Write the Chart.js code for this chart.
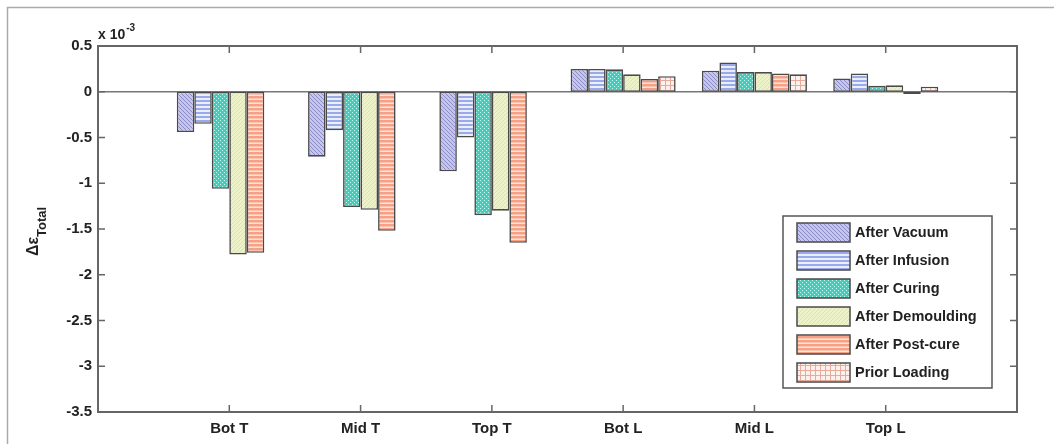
<!DOCTYPE html>
<html>
<head>
<meta charset="utf-8">
<script src="https://cdn.jsdelivr.net/npm/chart.js@4.4.0/dist/chart.umd.min.js"></script>
<style>
  body { margin: 0; background: #fff; }
  #wrap { width: 1054px; height: 444px; }
</style>
</head>
<body>
<div id="wrap"><canvas id="myChart" width="1054" height="444"></canvas></div>
<script>
// Datos (unidades de 10^-3)
const categories = ['Bot T', 'Mid T', 'Top T', 'Bot L', 'Mid L', 'Top L'];
const seriesNames = ['After Vacuum', 'After Infusion', 'After Curing', 'After Demoulding', 'After Post-cure', 'Prior Loading'];
const afterVacuum = [-0.44, -0.71, -0.87, 0.25, 0.23, 0.145];
const afterInfusion = [-0.35, -0.42, -0.50, 0.25, 0.32, 0.20];
const afterCuring = [-1.06, -1.26, -1.35, 0.245, 0.215, 0.065];
const afterDemoulding = [-1.78, -1.29, -1.30, 0.19, 0.215, 0.07];
const afterPostcure = [-1.76, -1.52, -1.65, 0.14, 0.20, -0.025];
const priorLoading = [0, 0, 0, 0.17, 0.19, 0.055];
const yTicks = [0.5, 0, -0.5, -1, -1.5, -2, -2.5, -3, -3.5];

const FONT = '"Liberation Sans", Arial, sans-serif';

// Patrones de relleno (estilo MATLAB hatch)
function makePattern(size, draw) {
    const c = document.createElement('canvas');
    c.width = size; c.height = size;
    const g = c.getContext('2d');
    draw(g, size);
    return document.getElementById('myChart').getContext('2d').createPattern(c, 'repeat');
}

const patterns = [
    makePattern(4, (g, s) => {
        g.fillStyle = '#c6c6ea'; g.fillRect(0, 0, s, s);
        g.strokeStyle = '#8a8ac6'; g.lineWidth = 1;
        g.beginPath(); g.moveTo(-1, -1); g.lineTo(s + 1, s + 1); g.stroke();
    }),
    makePattern(4, (g, s) => {
        g.fillStyle = '#eaeefc'; g.fillRect(0, 0, s, s);
        g.fillStyle = '#9aaae8'; g.fillRect(0, 0, s, 2);
    }),
    makePattern(4, (g, s) => {
        g.fillStyle = '#3fcfbd'; g.fillRect(0, 0, s, s);
        g.fillStyle = '#c8f2ec'; g.fillRect(0, 0, 1, 1); g.fillRect(2, 2, 1, 1);
    }),
    makePattern(4, (g, s) => {
        g.fillStyle = '#eef2c8'; g.fillRect(0, 0, s, s);
        g.strokeStyle = '#dbe5a4'; g.lineWidth = 1;
        g.beginPath(); g.moveTo(-1, s + 1); g.lineTo(s + 1, -1); g.stroke();
    }),
    makePattern(4, (g, s) => {
        g.fillStyle = '#fde3d8'; g.fillRect(0, 0, s, s);
        g.fillStyle = '#f6a085'; g.fillRect(0, 0, s, 2.5);
    }),
    makePattern(5, (g, s) => {
        g.fillStyle = '#fcf1ed'; g.fillRect(0, 0, s, s);
        g.fillStyle = '#e8aa9b'; g.fillRect(0, 0, s, 1); g.fillRect(0, 0, 1, s);
    })
];

const seriesData = [afterVacuum, afterInfusion, afterCuring, afterDemoulding, afterPostcure, priorLoading];

// Etiquetas con relleno vacío a los lados (eje de 0 a 7 como en MATLAB)
const labels = [''].concat(categories, ['']);

const datasets = seriesData.map((vals, i) => ({
    label: seriesNames[i],
    data: [null].concat(vals, [null]),
    backgroundColor: patterns[i],
    borderColor: '#4a4a4a',
    borderWidth: 1.6,
    borderSkipped: false,
    categoryPercentage: 0.8,
    barPercentage: 1.0
}));

// Plugin para caja, ticks hacia adentro, linea de cero, leyenda y textos
const matlabPlugin = {
    id: 'matlab',
    beforeDraw(chart) {
        const ctx = chart.ctx;
        ctx.save();
        ctx.strokeStyle = '#aaa';
        ctx.lineWidth = 1.5;
        ctx.beginPath();
        ctx.moveTo(1054, 7.5); ctx.lineTo(7.5, 7.5); ctx.lineTo(7.5, 444);
        ctx.stroke();
        ctx.restore();
    },
    beforeDatasetsDraw(chart) {
        const ctx = chart.ctx;
        const a = chart.chartArea;
        const y0 = chart.scales.y.getPixelForValue(0);
        ctx.save();
        ctx.strokeStyle = '#777';
        ctx.lineWidth = 1.5;
        ctx.beginPath(); ctx.moveTo(a.left, y0); ctx.lineTo(a.right, y0); ctx.stroke();
        ctx.restore();
    },
    afterDraw(chart) {
        const ctx = chart.ctx;
        const a = chart.chartArea;
        const xs = chart.scales.x, ys = chart.scales.y;
        ctx.save();
        ctx.strokeStyle = '#666';
        ctx.lineWidth = 2;
        ctx.strokeRect(a.left, a.top, a.right - a.left, a.bottom - a.top);
        ctx.lineWidth = 1.5;
        ctx.beginPath();
        yTicks.forEach(v => {
            const py = ys.getPixelForValue(v);
            ctx.moveTo(a.left, py); ctx.lineTo(a.left + 7, py);
            ctx.moveTo(a.right, py); ctx.lineTo(a.right - 7, py);
        });
        categories.forEach((c, i) => {
            const px = xs.getPixelForValue(i + 1);
            ctx.moveTo(px, a.bottom); ctx.lineTo(px, a.bottom - 7);
            ctx.moveTo(px, a.top); ctx.lineTo(px, a.top + 7);
        });
        ctx.stroke();

        // x 10^-3
        ctx.fillStyle = '#222';
        ctx.textBaseline = 'alphabetic';
        ctx.textAlign = 'left';
        ctx.font = 'bold 14px ' + FONT;
        ctx.fillText('x 10', a.left, 39);
        const w10 = ctx.measureText('x 10').width;
        ctx.font = 'bold 10px ' + FONT;
        ctx.fillText('-3', a.left + w10 + 1, 31);

        // Titulo eje Y: Δε_Total
        ctx.save();
        ctx.translate(34, 256);
        ctx.rotate(-Math.PI / 2);
        ctx.textBaseline = 'middle';
        ctx.font = 'bold 16px ' + FONT;
        ctx.fillText('Δε', 0, 0);
        const wd = ctx.measureText('Δε').width;
        ctx.font = 'bold 13px ' + FONT;
        ctx.fillText('Total', wd, 8);
        ctx.restore();

        // Leyenda
        const lx = 783, ly = 216, lw = 209, lh = 172;
        ctx.fillStyle = '#fff';
        ctx.fillRect(lx, ly, lw, lh);
        ctx.strokeStyle = '#555';
        ctx.lineWidth = 1.5;
        ctx.strokeRect(lx, ly, lw, lh);
        seriesNames.forEach((name, i) => {
            const cy = 233 + i * 28;
            ctx.fillStyle = patterns[i];
            ctx.fillRect(797, cy - 10, 53, 19);
            ctx.strokeStyle = '#4a4a4a';
            ctx.lineWidth = 1.5;
            ctx.strokeRect(797, cy - 10, 53, 19);
            ctx.fillStyle = '#222';
            ctx.font = 'bold 14.5px ' + FONT;
            ctx.textBaseline = 'middle';
            ctx.fillText(name, 855, cy);
        });
        ctx.restore();
    }
};

var ctx = document.getElementById('myChart').getContext('2d');
var myChart = new Chart(ctx, {
    type: 'bar',
    data: {
        labels: labels,
        datasets: datasets
    },
    options: {
        responsive: false,
        animation: false,
        layout: {
            padding: { left: 0, right: 37, top: 46, bottom: 0 }
        },
        plugins: {
            legend: { display: false },
            tooltip: { enabled: false },
            title: { display: false }
        },
        scales: {
            x: {
                offset: false,
                grid: { display: false, drawTicks: false },
                border: { display: false },
                ticks: {
                    autoSkip: false,
                    maxRotation: 0,
                    padding: 8,
                    color: '#222',
                    font: { family: FONT, size: 15, weight: 'bold' }
                },
                afterFit: s => { s.height = 32; }
            },
            y: {
                min: -3.5,
                max: 0.5,
                grid: { display: false, drawTicks: false },
                border: { display: false },
                ticks: {
                    stepSize: 0.5,
                    padding: 6,
                    color: '#222',
                    font: { family: FONT, size: 15, weight: 'bold' },
                    callback: v => String(Math.round(v * 10) / 10)
                },
                afterFit: s => { s.width = 98; }
            }
        }
    },
    plugins: [matlabPlugin]
});
</script>
</body>
</html>
